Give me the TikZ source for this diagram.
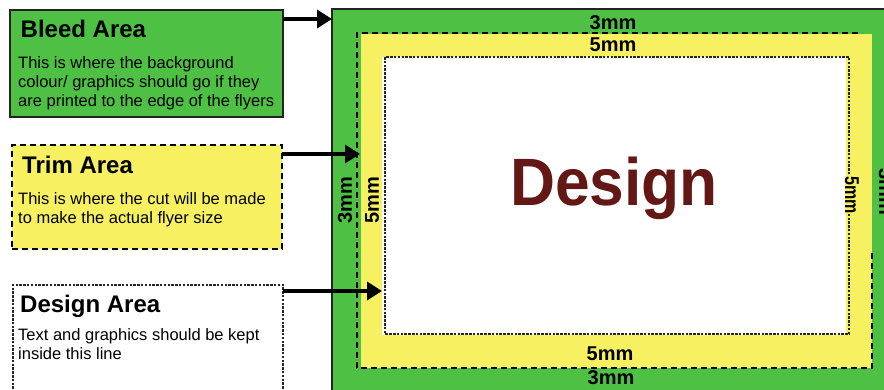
\documentclass[tikz,border=0pt]{standalone}
\usepackage{fontspec}
\setmainfont{Liberation Sans}
\usetikzlibrary{arrows.meta}
\definecolor{bleedgreen}{RGB}{78,192,68}
\definecolor{trimyellow}{RGB}{247,241,98}
\definecolor{designred}{RGB}{100,24,22}
\definecolor{edgegray}{RGB}{35,35,35}
\begin{document}
\begin{tikzpicture}[x=1pt,y=-1pt,
  boxtitle/.style={anchor=base west, inner sep=0, font=\fontsize{24}{28}\selectfont\bfseries},
  boxbody/.style={anchor=base west, inner sep=0, font=\fontsize{16.5}{19}\selectfont},
  mmlabel/.style={inner sep=0, font=\fontsize{20}{23}\selectfont\bfseries},
  arr/.style={line width=3.5pt, -{Triangle[length=15pt,width=18pt]}},
  trimdash/.style={line width=2pt, dash pattern=on 6pt off 4pt},
  designdash/.style={line width=1.2pt, dash pattern=on 2.5pt off 1.3pt, draw=black!85},
  zone/.style={anchor=north west, inner sep=0, outer sep=0}
]
\clip (0,0) rectangle (884,389);
\fill[white] (0,0) rectangle (884,389);

% flyer zones
\node[zone, fill=bleedgreen, draw=edgegray, line width=2pt, minimum width=600pt, minimum height=420pt] (bleedzone) at (332,9) {};
\node[zone, fill=trimyellow, minimum width=511pt, minimum height=334pt] (trimzone) at (361,34) {};
\coordinate (trimline) at (357,33);
\draw[trimdash] (872,253) -- (872,368) -- (357,368) -- (357,33) -- (862,33);
\node[zone, fill=white, minimum width=464pt, minimum height=278pt] (designzone) at (382,57) {};
\draw[designdash] (385,57) rectangle (849,334);

% measurement labels
\node[mmlabel] (top3) at (613,23) {3mm};
\node[mmlabel] (top5) at (613,44.5) {5mm};
\node[mmlabel] (bot5) at (610,354) {5mm};
\node[mmlabel] (bot3) at (611,378) {3mm};
\node[mmlabel, rotate=90] (left3) at (345,200) {3mm};
\node[mmlabel, rotate=90] (left5) at (372,200) {5mm};
\node[mmlabel, rotate=-90, fill=trimyellow] (right5) at (852,195) {\scalebox{0.8}[1]{5mm}};
\node[mmlabel, rotate=-90] (right3) at (886,192) {3mm};

\node[anchor=base, inner sep=0, text=designred, font=\fontsize{67}{70}\selectfont\bfseries] (dtitle) at (614,205) {\scalebox{0.93}[1]{Design}};

% legend boxes
\node[zone, fill=bleedgreen, draw=edgegray, line width=1.5pt, minimum width=273pt, minimum height=107pt] (bleedbox) at (10,10) {};
\node[zone, fill=trimyellow, draw=black, trimdash, line width=2.5pt, minimum width=270pt, minimum height=104pt] (trimbox) at (12,145) {};
\node[zone, fill=white, draw, designdash, minimum width=270pt, minimum height=130pt] (designbox) at (13,285) {};

\node[boxtitle] (bleedtitle) at (20.5,37.7) {Bleed Area};
\node[boxbody] (bleedtext) at (18,68) {\parbox[t]{300pt}{This is where the background\\colour/ graphics should go if they\\are printed to the edge of the flyers}};
\node[boxtitle] (trimtitle) at (22,173) {Trim Area};
\node[boxbody] (trimtext) at (18,204) {\parbox[t]{300pt}{This is where the cut will be made\\to make the actual flyer size}};
\node[boxtitle] (designtitle) at (20,312) {Design Area};
\node[boxbody] (designtext) at (18,340) {\parbox[t]{300pt}{Text and graphics should be kept\\inside this line}};

% arrows
\draw[arr] ([yshift=-9pt]bleedbox.north east) -- ([yshift=-9pt]bleedbox.north east -| bleedzone.west);
\draw[arr, shorten >=-3pt] ([yshift=-9pt]trimbox.north east) -- ([yshift=-9pt]trimbox.north east -| trimline);
\draw[arr] ([yshift=-6pt]designbox.north east) -- ([yshift=-6pt]designbox.north east -| designzone.west);
\end{tikzpicture}
\end{document}
